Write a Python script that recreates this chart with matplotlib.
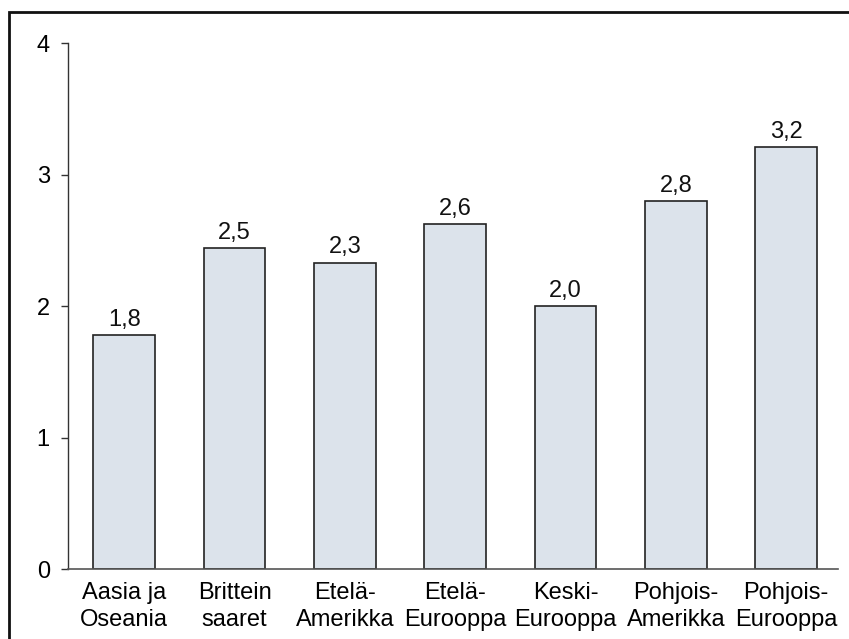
import matplotlib
matplotlib.use("Agg")
import matplotlib.pyplot as plt
from matplotlib.patches import Rectangle

plt.rcParams['font.family'] = ['Liberation Sans', 'DejaVu Sans']

regions = ["Aasia ja\nOseania", "Brittein\nsaaret", "Etelä-\nAmerikka", "Etelä-\nEurooppa",
           "Keski-\nEurooppa", "Pohjois-\nAmerikka", "Pohjois-\nEurooppa"]
heights = [1.78, 2.44, 2.33, 2.62, 2.0, 2.8, 3.21]
value_labels = ["1,8", "2,5", "2,3", "2,6", "2,0", "2,8", "3,2"]
yticks = [0, 1, 2, 3, 4]

fig = plt.figure(figsize=(8.49, 6.39), dpi=100)
ax = fig.add_axes([0.080, 0.1095, 0.907, 0.8232])

x = list(range(len(regions)))
bars = ax.bar(x, heights, width=0.56, color="#dce3eb", edgecolor="#222222", linewidth=1.2)

for b, lab in zip(bars, value_labels):
    ax.annotate(lab, (b.get_x() + b.get_width() / 2, b.get_height()),
                xytext=(0, 3), textcoords="offset points",
                ha="center", va="bottom", fontsize=17, color="#111111")

ax.set_xlim(-0.51, 6.47)
ax.set_ylim(0, 4)
ax.set_yticks(yticks)
ax.set_yticklabels([str(t) for t in yticks])
ax.set_xticks(x)
ax.set_xticklabels(regions, linespacing=1.35)

for s in ["top", "right"]:
    ax.spines[s].set_visible(False)
ax.spines["left"].set_color("#333333")
ax.spines["bottom"].set_color("#555555")
ax.spines["left"].set_linewidth(1.0)
ax.spines["bottom"].set_linewidth(1.2)

ax.tick_params(axis="y", length=5, width=1, color="#333333", pad=8, labelsize=17)
ax.tick_params(axis="x", length=0, pad=9, labelsize=17)

# frame around the figure
frame = Rectangle((9 / 849, -0.1), 1.2, 1.1 - 12 / 639, transform=fig.transFigure,
                  fill=False, edgecolor="#111111", linewidth=2, clip_on=False)
fig.patches.append(frame)

fig.savefig("out.png", dpi=100)
